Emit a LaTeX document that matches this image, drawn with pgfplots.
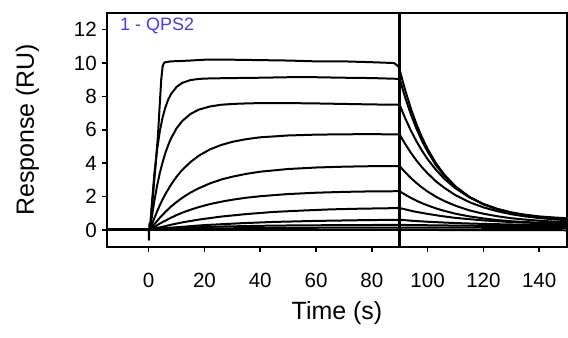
\documentclass[border=0pt]{standalone}
\usepackage{pgfplots}
\pgfplotsset{compat=1.18}
\usepackage{fontspec}
\setmainfont{Liberation Sans}
\definecolor{qpsblue}{RGB}{70,60,235}
\begin{document}
\begin{tikzpicture}
\begin{axis}[
  scale only axis, width=230.5pt, height=117pt,
  xmin=-15, xmax=150, ymin=-1, ymax=13,
  xtick={0,20,...,140}, ytick={0,2,...,12},
  tick align=outside, tick pos=left, major tick length=2.5pt,
  axis line style={line width=0.9pt},
  every tick/.style={black, line width=0.8pt},
  ticklabel style={font=\fontsize{10.3}{12}\selectfont},
  xticklabel style={yshift=-7.5pt},
  yticklabel style={xshift=1pt},
  /pgf/number format/assume math mode=true,
  xlabel={Time (s)}, ylabel={Response (RU)},
  label style={font=\fontsize{12.5}{15}\selectfont},
  xlabel style={at={(axis description cs:0.5,-0.285)}, anchor=center},
  ylabel style={at={(axis description cs:-0.1725,0.5)}, anchor=center},
  cycle list={{black, solid, mark=none}},
  every axis plot/.append style={line width=1pt, line join=round},
]
% C1
\addplot coordinates {(-15,0.05) (0,0.05) (0.1,-0.6) (0.3,0.4) (0.5,0.1) (1.5,2.0) (2.5,3.9) (3.3,5.6) (4,7.6) (4.5,9.0) (5,9.8) (5.5,10.0) (6,10.05) (8,10.1) (15,10.15) (20,10.2) (30,10.2) (50,10.15) (60,10.1) (70,10.1) (80,10.05) (88,10.0) (89.5,9.8)
 (90,9.6) (91,8.95) (92,8.35) (94,7.27) (96,6.34) (98,5.54) (100,4.85) (103,3.99) (106,3.31) (110,2.61) (115,1.98) (120,1.55) (125,1.25) (130,1.05) (135,0.91) (140,0.81) (145,0.75) (150,0.70)};
% C2
\addplot coordinates {(-15,0.05) (0.5,0.05) (1,1.27) (2,3.30) (3,4.80) (4,5.92) (5,6.74) (6,7.35) (7,7.81) (8,8.14) (10,8.57) (12,8.81) (15,8.98) (18,9.05) (22,9.08) (26,9.09) (30,9.1) (40,9.12) (50,9.15) (60,9.15) (70,9.12) (80,9.1)
 (90,9.05) (91,8.46) (92,7.91) (94,6.92) (96,6.07) (98,5.33) (100,4.69) (103,3.88) (106,3.24) (110,2.56) (115,1.96) (120,1.53) (125,1.23) (130,1.03) (135,0.88) (140,0.78) (145,0.71) (150,0.66)};
% C3
\addplot coordinates {(-15,0.05) (0.5,0.05) (1,0.62) (2,1.71) (3,2.63) (4,3.41) (5,4.06) (6,4.62) (7,5.08) (8,5.48) (10,6.09) (12,6.52) (15,6.95) (18,7.21) (22,7.40) (26,7.50) (30,7.55) (35,7.58) (40,7.6) (50,7.6) (60,7.58) (70,7.55) (80,7.52)
 (90,7.5) (91,7.08) (92,6.68) (94,5.95) (96,5.31) (98,4.74) (100,4.24) (103,3.60) (106,3.06) (110,2.49) (115,1.95) (120,1.55) (125,1.26) (130,1.04) (135,0.88) (140,0.77) (145,0.68) (150,0.62)};
% C4
\addplot coordinates {(-15,0.05) (0.5,0.05) (1,0.24) (2,0.69) (3,1.10) (4,1.48) (5,1.83) (6,2.15) (8,2.71) (10,3.19) (12,3.59) (15,4.07) (18,4.45) (22,4.83) (26,5.09) (30,5.28) (35,5.44) (40,5.55) (50,5.66) (60,5.71) (70,5.73) (80,5.74)
 (90,5.72) (91,5.42) (92,5.14) (94,4.62) (96,4.16) (98,3.75) (100,3.39) (103,2.91) (106,2.52) (110,2.08) (115,1.66) (120,1.35) (125,1.12) (130,0.94) (135,0.81) (140,0.71) (145,0.64) (150,0.58)};
% C5
\addplot coordinates {(-15,0.05) (0.5,0.05) (2,0.33) (4,0.73) (6,1.08) (8,1.40) (10,1.67) (12,1.92) (15,2.24) (18,2.50) (22,2.79) (26,3.02) (30,3.19) (35,3.36) (40,3.49) (50,3.65) (60,3.74) (70,3.79) (80,3.82)
 (90,3.83) (91,3.63) (92,3.45) (94,3.11) (96,2.81) (98,2.54) (100,2.30) (103,1.99) (106,1.73) (110,1.45) (115,1.17) (120,0.97) (125,0.82) (130,0.70) (135,0.62) (140,0.55) (145,0.50) (150,0.47)};
% C6
\addplot coordinates {(-15,0.05) (0.5,0.05) (2,0.17) (4,0.38) (6,0.56) (8,0.73) (10,0.89) (12,1.03) (15,1.21) (18,1.37) (22,1.55) (26,1.69) (30,1.81) (35,1.93) (40,2.02) (50,2.15) (60,2.23) (70,2.28) (80,2.31)
 (90,2.32) (91,2.21) (92,2.11) (94,1.92) (96,1.75) (98,1.60) (100,1.47) (103,1.29) (106,1.14) (110,0.97) (115,0.81) (120,0.69) (125,0.59) (130,0.52) (135,0.47) (140,0.43) (145,0.40) (150,0.37)};
% C7
\addplot coordinates {(-15,0.05) (0.5,0.05) (4,0.15) (8,0.31) (12,0.45) (18,0.62) (26,0.80) (35,0.95) (45,1.08) (55,1.16) (65,1.23) (75,1.27)
 (90,1.31) (92,1.23) (95,1.11) (100,0.96) (105,0.83) (110,0.72) (120,0.57) (130,0.47) (140,0.41) (150,0.36)};
% C8
\addplot coordinates {(-15,0.05) (0.5,0.05) (10,0.16) (20,0.29) (33,0.40) (45,0.48) (60,0.54) (75,0.58)
 (90,0.61) (95,0.54) (100,0.49) (110,0.41) (120,0.36) (135,0.31) (150,0.28)};
% C9
\addplot coordinates {(-15,0.05) (0,0.05) (10,0.12) (25,0.2) (45,0.26) (70,0.29) (90,0.3) (110,0.26) (130,0.23) (150,0.22)};
% C10
\addplot coordinates {(-15,0.05) (0,0.05) (30,0.1) (60,0.13) (90,0.14) (150,0.12)};
% C11
\addplot coordinates {(-15,0.0) (0,0.0) (90,0.0) (150,-0.02)};
% injection end marker
\addplot[line width=1.5pt] coordinates {(90,-1) (90,13)};
\node[anchor=west, text=qpsblue, font=\fontsize{9}{10.8}\selectfont, inner sep=0pt] at (axis description cs:0.028,0.945) {1 - QPS2};
\end{axis}
\pgfresetboundingbox
\path ([xshift=-53.5pt,yshift=-45.5pt]current axis.south west) rectangle ([xshift=0.45pt,yshift=6.5pt]current axis.north east);
\end{tikzpicture}
\end{document}
